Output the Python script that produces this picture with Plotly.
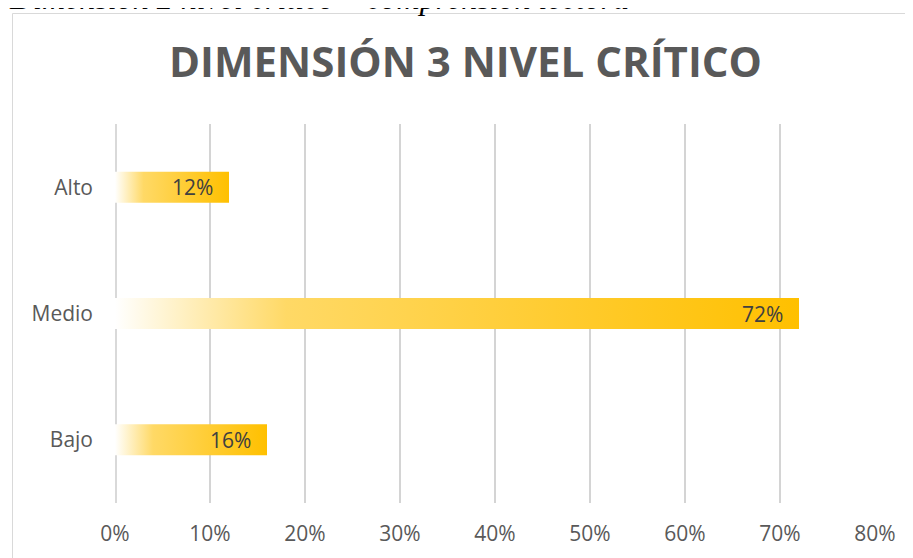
import plotly.graph_objects as go

categories = ["Bajo", "Medio", "Alto"]
values = [16, 72, 12]
tick_vals = [0, 10, 20, 30, 40, 50, 60, 70, 80]
tick_text = ["0%", "10%", "20%", "30%", "40%", "50%", "60%", "70%", "80%"]
title = "DIMENSIÓN 3 NIVEL CRÍTICO"
caption = "Dimensión 2 nivel crítico – comprensión lectora"

W, H = 913, 558
OFF = 8  # page body margin
L, R, T, B = 107, 46, 116, 63
pw, ph = W - L - R, H - T - B

def sx(px):  # screen px -> paper x
    return (px - OFF - L) / pw

def sy(py):  # screen px -> paper y
    return (H - B - (py - OFF)) / ph

half = 0.1225
grad = [[0.0, "rgba(255,255,255,1)"], [0.06, "#FFF6DA"], [0.25, "#FFD966"], [1.0, "#FFC000"]]
font = "Open Sans"

fig = go.Figure()
for i, (cat, v) in enumerate(zip(categories, values)):
    fig.add_trace(go.Scatter(
        x=[0, v, v, 0, 0],
        y=[i - half, i - half, i + half, i + half, i - half],
        mode="lines", fill="toself",
        line=dict(width=0, color="rgba(0,0,0,0)"),
        fillgradient=dict(type="horizontal", colorscale=grad),
        hoverinfo="skip", showlegend=False,
    ))
    fig.add_annotation(x=v, y=i, text=f"{v}%", xanchor="right", xshift=-14,
                       showarrow=False, font=dict(family=font, size=21, color="#404040"))

# chart border
fig.add_shape(type="rect", xref="paper", yref="paper",
              x0=sx(12.5), x1=sx(940), y0=sy(600), y1=sy(13.5),
              line=dict(color="#D9D9D9", width=1), layer="below")

fig.add_annotation(xref="paper", yref="paper", x=sx(465), y=sy(60),
                   text=f"<b>{title}</b>", showarrow=False, xanchor="center", yanchor="middle",
                   font=dict(family=font, size=42, color="#595959"))

fig.add_annotation(xref="paper", yref="paper", x=sx(7), y=sy(-2),
                   text=f"<i>{caption}</i>", showarrow=False, xanchor="left", yanchor="middle",
                   font=dict(family="Liberation Serif", size=32, color="#000000"))

fig.update_layout(
    width=W, height=H,
    margin=dict(l=L, r=R, t=T, b=B, autoexpand=False),
    paper_bgcolor="white", plot_bgcolor="white",
    xaxis=dict(range=[0, 80], tickvals=tick_vals, ticktext=tick_text,
               showgrid=True, gridcolor="#D4D4D4", gridwidth=2,
               zeroline=False, showline=False, ticks="", ticklabelstandoff=16,
               tickfont=dict(family=font, size=21, color="#595959"), fixedrange=True),
    yaxis=dict(range=[-0.5, 2.5], tickvals=[0, 1, 2], ticktext=categories,
               showgrid=False, zeroline=False, showline=False, ticks="",
               ticklabelstandoff=21,
               tickfont=dict(family=font, size=21, color="#595959"), fixedrange=True),
)
fig.add_shape(type="line", xref="x", yref="paper", x0=0, x1=0, y0=0, y1=1,
              line=dict(color="#D9D9D9", width=4), layer="below")

fig.write_html("out.html")
